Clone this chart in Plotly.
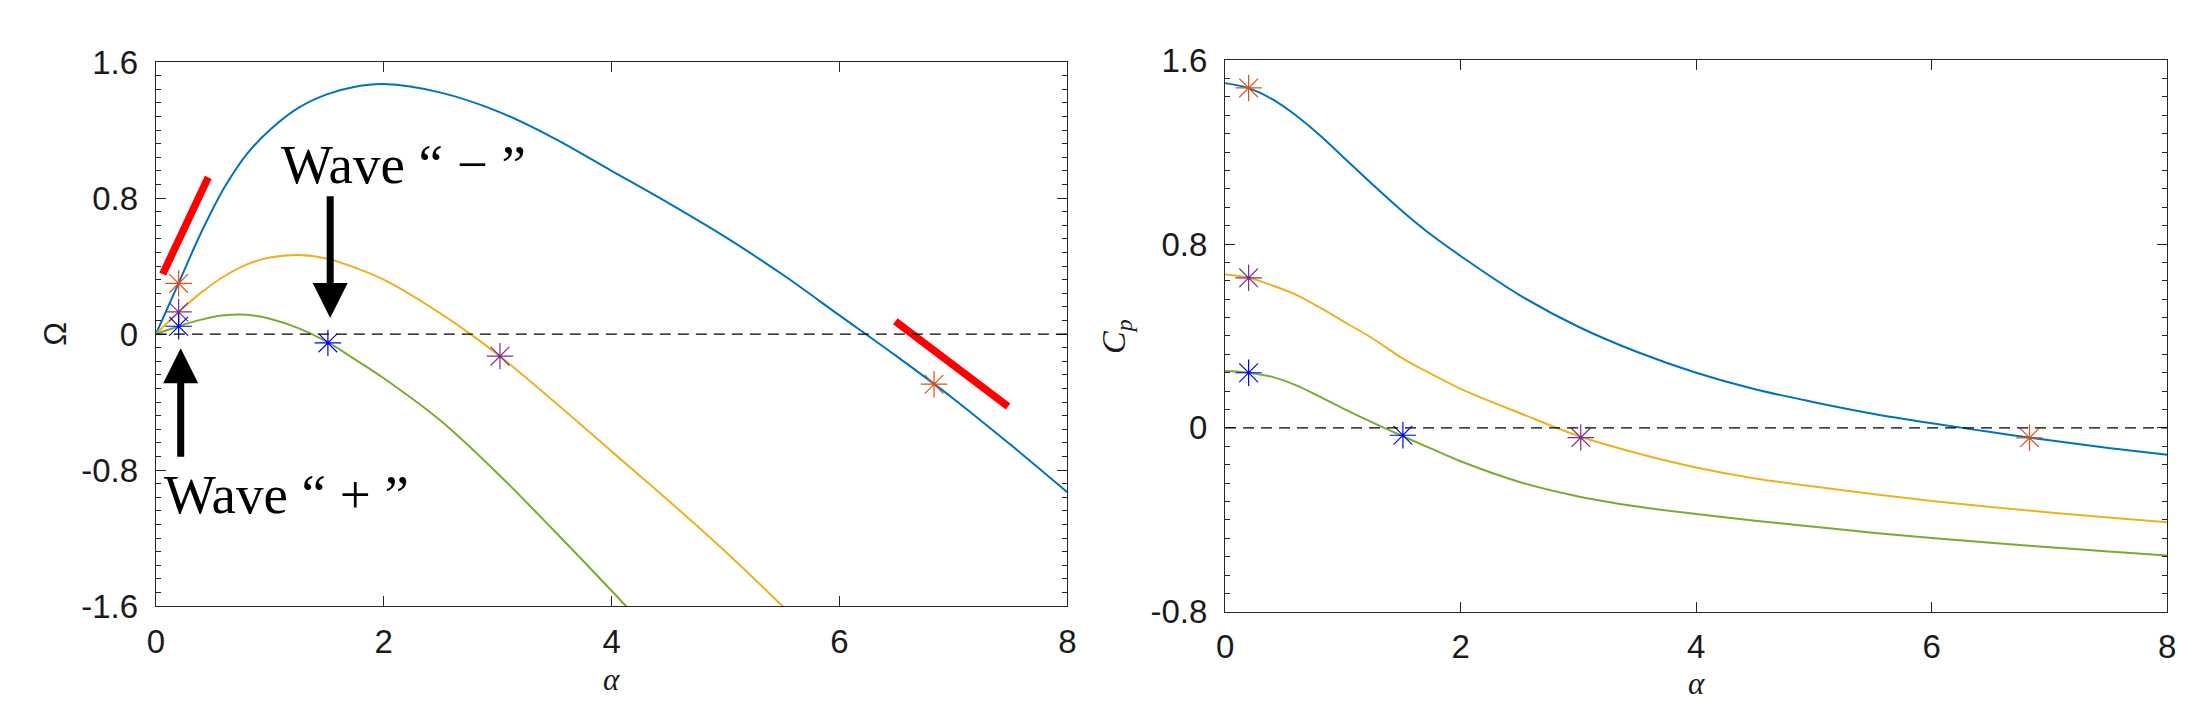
import plotly.graph_objects as go

# --- data ---
alpha = [0, 0.2, 0.4, 0.6, 0.8, 1.0, 1.25, 1.5, 1.75, 2.0, 2.5, 3.0,
         3.5, 4.0, 4.5, 5.0, 5.5, 6.0, 6.5, 7.0, 7.5, 8.0]

# left panel: Omega(alpha)
omega_blue = [0, 0.30, 0.60, 0.86, 1.06, 1.20, 1.33, 1.41, 1.455, 1.47, 1.42, 1.31,
              1.15, 0.96, 0.77, 0.57, 0.35, 0.11, -0.13, -0.38, -0.65, -0.93]
omega_orange = [0, 0.13, 0.245, 0.34, 0.41, 0.45, 0.465, 0.445, 0.39, 0.32, 0.12, -0.12,
                -0.40, -0.69, -0.98, -1.28, -1.60, -1.93]
omega_green = [0, 0.046, 0.085, 0.11, 0.113, 0.09, 0.035, -0.045, -0.15, -0.26, -0.51, -0.82,
               -1.16, -1.51, -1.87]

# right panel: Cp(alpha)
cp_blue = [1.50, 1.478, 1.43, 1.36, 1.275, 1.18, 1.06, 0.945, 0.84, 0.748, 0.578, 0.44,
           0.33, 0.24, 0.168, 0.112, 0.062, 0.02, -0.018, -0.054, -0.087, -0.117]
cp_orange = [0.667, 0.653, 0.62, 0.58, 0.525, 0.465, 0.39, 0.305, 0.235, 0.17, 0.065, -0.035,
             -0.11, -0.172, -0.22, -0.255, -0.288, -0.318, -0.344, -0.368, -0.39, -0.41]
cp_green = [0.247, 0.24, 0.222, 0.186, 0.137, 0.085, 0.024, -0.034, -0.09, -0.145, -0.235, -0.298,
            -0.342, -0.375, -0.404, -0.43, -0.456, -0.479, -0.5, -0.519, -0.538, -0.555]

# star markers
star_alpha = [0.2, 0.2, 0.2, 1.51, 3.02, 6.83]
star_omega = [0.298, 0.13, 0.046, -0.052, -0.13, -0.295]
star_cp = [1.479, 0.653, 0.24, -0.032, -0.042, -0.043]
star_colors = ['#D95319', '#7E2F8E', '#0000FF', '#0000FF', '#7E2F8E', '#D95319']

# red tangent segments (left panel)
red1_alpha = [0.06, 0.46]
red1_omega = [0.353, 0.921]
red2_alpha = [6.49, 7.48]
red2_omega = [0.076, -0.426]

ytick_left = [-1.6, -0.8, 0, 0.8, 1.6]
ytick_right = [-0.8, 0, 0.8, 1.6]
xtick = [0, 2, 4, 6, 8]

W, H = 2204, 710
BLUE, ORANGE, GREEN = '#0072BD', '#EDB120', '#77AC30'
AXC = '#262626'


def px(x):
    return x / W


def py(y):
    return 1 - y / H


fig = go.Figure()

for ys, c, ax in [(omega_blue, BLUE, 'x'), (omega_orange, ORANGE, 'x'), (omega_green, GREEN, 'x'),
                  (cp_blue, BLUE, 'x2'), (cp_orange, ORANGE, 'x2'), (cp_green, GREEN, 'x2')]:
    fig.add_trace(go.Scatter(
        x=alpha[:len(ys)], y=ys, mode='lines',
        line=dict(color=c, width=2, shape='spline', smoothing=1.0),
        xaxis=ax, yaxis='y' if ax == 'x' else 'y2', showlegend=False))

for xs, ys in [(red1_alpha, red1_omega), (red2_alpha, red2_omega)]:
    fig.add_trace(go.Scatter(x=xs, y=ys, mode='lines',
                             line=dict(color='#FF0000', width=7.5),
                             xaxis='x', yaxis='y', showlegend=False))

for ys, ax, ay in [(star_omega, 'x', 'y'), (star_cp, 'x2', 'y2')]:
    fig.add_trace(go.Scatter(
        x=star_alpha, y=ys, mode='markers',
        marker=dict(symbol='asterisk-open', size=22, color=star_colors,
                    line=dict(width=1.2, color=star_colors)),
        xaxis=ax, yaxis=ay, showlegend=False))

# dashed zero lines
for xr, yr in [('x', 'y'), ('x2', 'y2')]:
    fig.add_shape(type='line', xref=xr, yref=yr, x0=0, x1=8, y0=0, y1=0,
                  line=dict(color='black', width=1.2, dash='11px,7px'))

axis_common = dict(showline=True, linecolor=AXC, linewidth=1.3, mirror='allticks',
                   ticks='inside', ticklen=10, tickcolor=AXC, tickwidth=1.2,
                   showgrid=False, zeroline=False,
                   tickfont=dict(family='Liberation Sans, Arial', size=33, color='#1a1a1a'))

fig.update_layout(
    width=W, height=H,
    margin=dict(l=0, r=0, t=0, b=0),
    plot_bgcolor='white', paper_bgcolor='white',
    xaxis=dict(domain=[px(140), px(1059)], range=[0, 8], tickvals=xtick, anchor='y',
               ticklabelstandoff=6, **axis_common),
    yaxis=dict(domain=[py(612), py(38)], range=[-1.6, 1.6], tickvals=ytick_left,
               ticktext=[str(v) if v != 0 else '0' for v in ytick_left], anchor='x',
               ticklabelstandoff=10,
               minor=dict(dtick=0.08, tick0=0, ticks='inside', ticklen=5,
                          tickcolor=AXC, tickwidth=1),
               **axis_common),
    xaxis2=dict(domain=[px(1218), px(2168)], range=[0, 8], tickvals=xtick, anchor='y2',
                ticklabelstandoff=5, **axis_common),
    yaxis2=dict(domain=[py(618), py(36)], range=[-0.8, 1.6], tickvals=ytick_right,
                ticktext=[str(v) if v != 0 else '0' for v in ytick_right], anchor='x2',
                ticklabelstandoff=10,
                minor=dict(dtick=0.08, tick0=0, ticks='inside', ticklen=5,
                           tickcolor=AXC, tickwidth=1),
                **axis_common),
)

serif = 'Liberation Serif, Times New Roman, serif'

# arrows
fig.add_annotation(x=1.53, y=0.095, ax=1.53, ay=0.82, xref='x', yref='y', axref='x', ayref='y',
                   text='', showarrow=True, arrowhead=2, arrowwidth=7, arrowsize=1.0,
                   arrowcolor='black')
fig.add_annotation(x=0.218, y=-0.083, ax=0.218, ay=-0.73, xref='x', yref='y', axref='x', ayref='y',
                   text='', showarrow=True, arrowhead=2, arrowwidth=7, arrowsize=1.0,
                   arrowcolor='black')

# texts
fig.add_annotation(x=px(390), y=py(146), xref='paper', yref='paper', showarrow=False,
                   text='Wave \u201c \u2212 \u201d', font=dict(family=serif, size=55, color='black'),
                   xanchor='center', yanchor='middle')
fig.add_annotation(x=px(272), y=py(494), xref='paper', yref='paper', showarrow=False,
                   text='Wave \u201c + \u201d', font=dict(family=serif, size=55, color='black'),
                   xanchor='center', yanchor='middle')

# axis titles
fig.add_annotation(x=px(38), y=py(325), xref='paper', yref='paper', showarrow=False,
                   text='\u03a9', textangle=-90,
                   font=dict(family='Liberation Sans, Arial', size=32, color='#1a1a1a'),
                   xanchor='center', yanchor='middle')
fig.add_annotation(x=px(1108), y=py(327), xref='paper', yref='paper', showarrow=False,
                   text='<i>C</i><sub><i>p</i></sub>', textangle=-90,
                   font=dict(family=serif, size=34, color='#1a1a1a'),
                   xanchor='center', yanchor='middle')
for cx, cy in [(599, 689), (1693, 694)]:
    fig.add_annotation(x=px(cx), y=py(cy), xref='paper', yref='paper', showarrow=False,
                       text='<i>\u03b1</i>', font=dict(family=serif, size=31, color='#1a1a1a'),
                       xanchor='center', yanchor='middle')

fig.write_html("out.html")
